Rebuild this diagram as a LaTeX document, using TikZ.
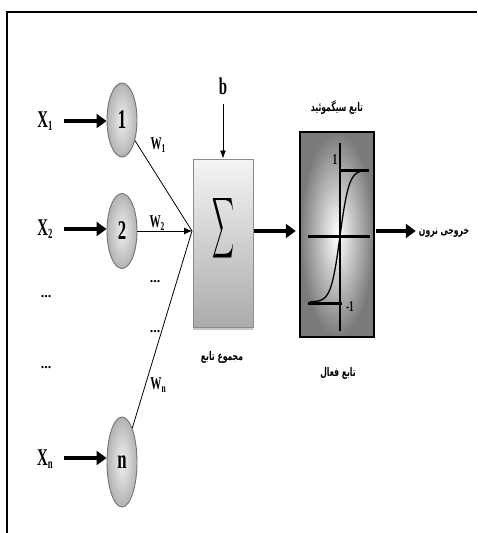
\documentclass[tikz,border=0pt]{standalone}
\usepackage{fontspec}
\usepackage{graphicx}
\usetikzlibrary{shapes.geometric,arrows.meta,shadows}
\setmainfont{Liberation Serif}
\newfontfamily\cond[FakeStretch=0.62]{Liberation Serif}
\newfontfamily\fa[Script=Arabic,FakeStretch=0.64]{DejaVu Sans}
\TeXXeTstate=1
\newcommand\fw[1]{\beginR #1\endR}
\newcommand\subx[1]{\raisebox{-3pt}{\fontsize{14}{14}\selectfont #1}}
\newcommand\subw[1]{\raisebox{-3pt}{\fontsize{12}{12}\selectfont #1}}
\begin{document}
\begin{tikzpicture}[x=1pt,y=-1pt,
  lbl/.style={font=\cond\bfseries\fontsize{24}{24}\selectfont, inner sep=0},
  wlbl/.style={font=\cond\bfseries\fontsize{18}{18}\selectfont, inner sep=0},
  dots/.style={font=\bfseries\fontsize{14}{14}\selectfont, inner sep=0},
  neuron/.style={ellipse, draw=black!55, line width=0.9pt, inner sep=0,
    minimum width=30, minimum height=74, shading=radial,
    inner color=white!94!black, outer color=black!30,
    font=\cond\bfseries\fontsize{27}{27}\selectfont},
  fatarrow/.style={line width=4.5pt, -{Triangle[length=10pt,width=14pt]}},
  thinline/.style={line width=0.8pt},
  fatext/.style={font=\fa\bfseries\fontsize{12}{14}\selectfont, inner sep=0},
]
\useasboundingbox (0,0) rectangle (477,533);
\fill[white] (0,0) rectangle (477,533);
% frame
\draw[line width=2.5pt] (7,533) -- (7,12) -- (477,12);

% neurons
\node[neuron] (n1) at (122,120) {1};
\node[neuron, minimum height=75] (n2) at (122,231) {2};
\node[neuron, minimum height=90] (nn) at (122,462) {n};

% inputs
\node[lbl] (x1) at (45,121) {X\subx{1}};
\node[lbl] (x2) at (45,229) {X\subx{2}};
\node[lbl] (xn) at (45,459) {X\subx{n}};
\node[dots] (d1) at (46,297) {...};
\node[dots] (d2) at (46,368) {...};
\coordinate (s1) at (64,121);
\coordinate (s2) at (64,229);
\coordinate (sn) at (64,458);
\draw[fatarrow] (s1) -- (n1.west |- s1);
\draw[fatarrow] (s2) -- (n2.west |- s2);
\draw[fatarrow] (sn) -- (nn.west |- sn);

% sum box
\node[draw=black!45, line width=1pt, minimum width=60, minimum height=168,
  top color=white!96!black, bottom color=black!33,
  drop shadow={shadow xshift=0pt, shadow yshift=-3pt, fill=black!35, opacity=0.6}] (sum) at (223,243) {};
\node[inner sep=0] (sigma) at (223,228) {\resizebox*{22pt}{68pt}{$\displaystyle\sum$}};

% junction and weights
\coordinate (j) at (192,231);
\draw[thinline] (n1) -- (j);
\draw[thinline] (nn) -- (j);
\draw[thinline, -{Latex[length=8pt,width=7pt]}] (n2) -- (j);
\node[wlbl] (w1) at (158,145) {W\subw{1}};
\node[wlbl] (w2) at (157,223) {W\subw{2}};
\node[wlbl] (wn) at (158,385) {W\subw{n}};
\node[dots] (d3) at (155,282) {...};
\node[dots] (d4) at (155,332) {...};

% bias
\node[font=\cond\bfseries\fontsize{24}{24}\selectfont, inner sep=0] (b) at (223,86) {b};
\draw[thinline, shorten <=9pt, -{Latex[length=8pt,width=6pt]}] (b) -- (sum.north);

% activation box
\node[draw=black, line width=2.5pt, minimum width=74, minimum height=205,
  shading=radial, inner color=white, outer color=black!52] (act) at (337,234.5) {};
\coordinate (ay1) at (340,143);
\coordinate (ay2) at (340,331);
\draw[line width=1.1pt] (ay1) -- (ay2);
\coordinate (ax1) at (308,236);
\coordinate (ax2) at (370,236);
\draw[line width=3pt] (ax1) -- (ax2);
\coordinate (tp1) at (339,170);
\coordinate (tp2) at (369,170);
\draw[line width=3pt] (tp1) -- (tp2);
\coordinate (bt1) at (308,303);
\coordinate (bt2) at (342,303);
\draw[line width=3pt] (bt1) -- (bt2);
\draw[line width=1.3pt] plot[domain=-30:29, samples=80, smooth] ({340+\x}, {236-66*tanh(\x/9)});
\node[font=\cond\bfseries\fontsize{15}{15}\selectfont, inner sep=0] (one) at (335,160) {1};
\node[font=\cond\bfseries\fontsize{15}{15}\selectfont, inner sep=0] (mone) at (350,307) {-1};

% connectors
\draw[fatarrow, shorten >=3pt] (sum.east |- j) -- (act.west |- j);
\node[fatext] (out) at (444,233) {\fw{نرون} \fw{خروجی}};
\draw[fatarrow, shorten <=1pt, shorten >=3pt] (act.east |- j) -- (out.west |- j);

% persian labels
\node[fatext] (ttl) at (337,108) {\fw{سیگموئید} \fw{تابع}};
\node[fatext] (sumlbl) at (222,357) {\fw{تابع} \fw{مجموع}};
\node[fatext] (actlbl) at (338,373) {\fw{فعال} \fw{تابع}};
\end{tikzpicture}
\end{document}
